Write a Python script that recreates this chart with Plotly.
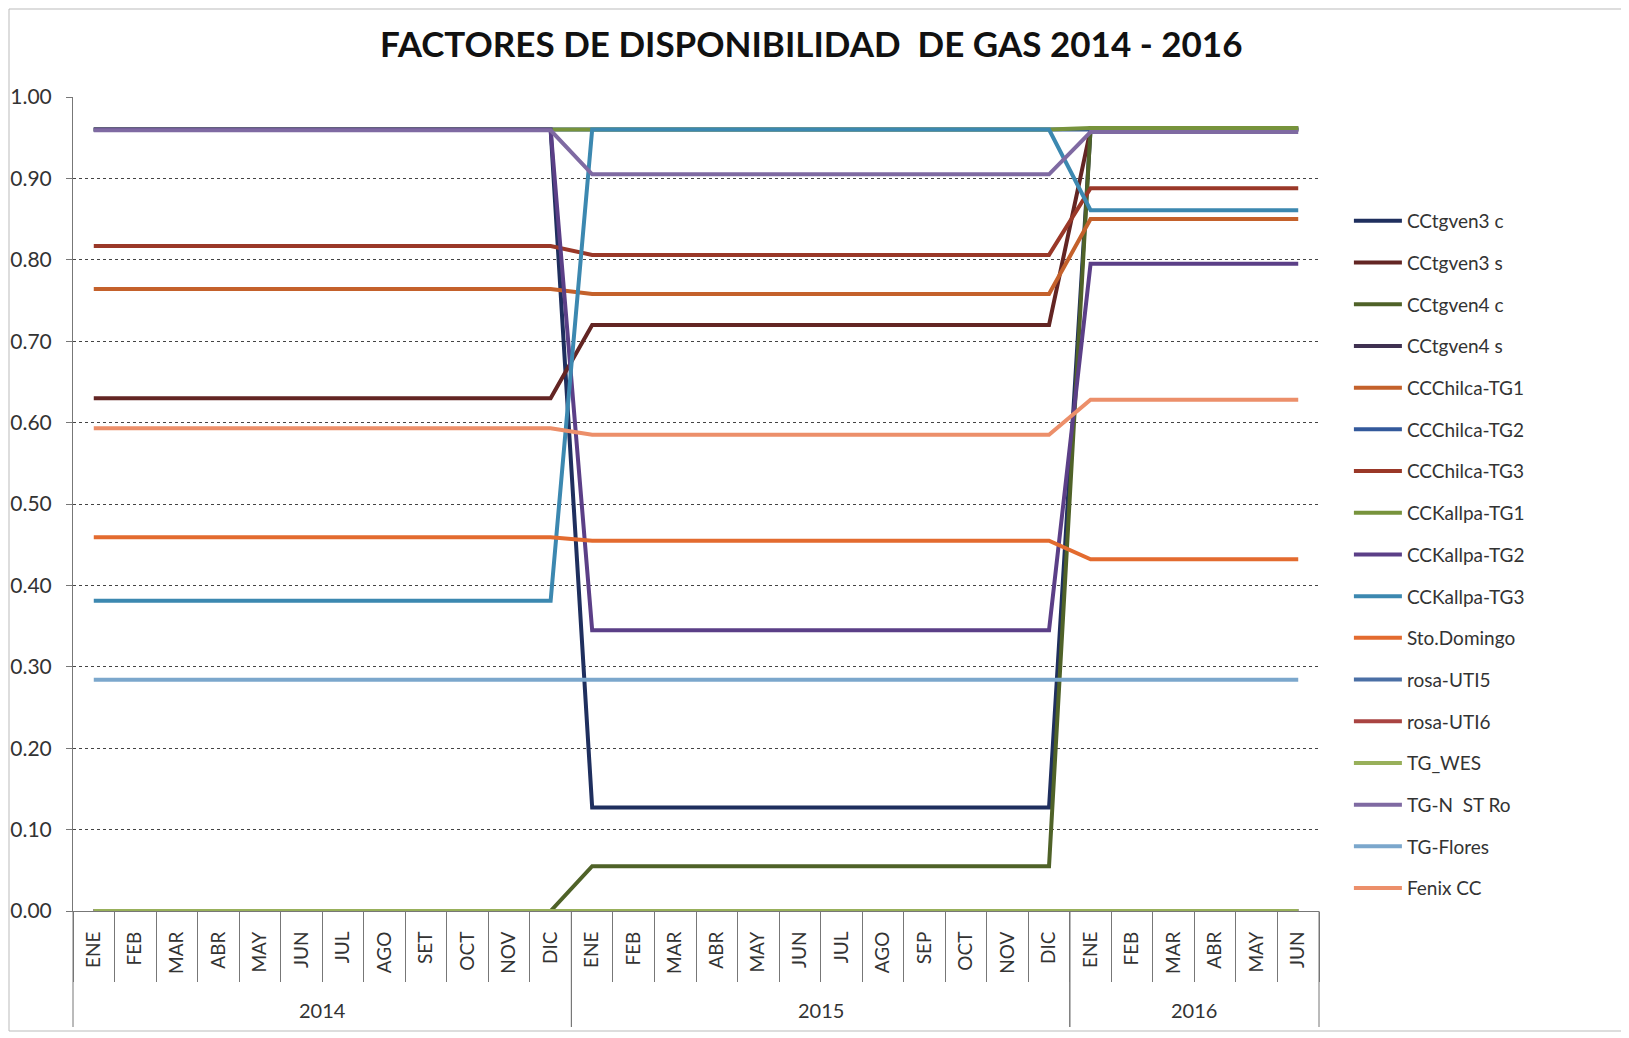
import plotly.graph_objects as go

years = ["2014"] * 12 + ["2015"] * 12 + ["2016"] * 6
months = ["ENE", "FEB", "MAR", "ABR", "MAY", "JUN", "JUL", "AGO", "SET", "OCT", "NOV", "DIC",
          "ENE", "FEB", "MAR", "ABR", "MAY", "JUN", "JUL", "AGO", "SEP", "OCT", "NOV", "DIC",
          "ENE", "FEB", "MAR", "ABR", "MAY", "JUN"]
year_labels = ["2014", "2015", "2016"]

cctgven3_c = [0.96, 0.96, 0.96, 0.96, 0.96, 0.96, 0.96, 0.96, 0.96, 0.96, 0.96, 0.96,
              0.127, 0.127, 0.127, 0.127, 0.127, 0.127, 0.127, 0.127, 0.127, 0.127, 0.127, 0.127,
              0.96, 0.96, 0.96, 0.96, 0.96, 0.96]
cctgven3_s = [0.63, 0.63, 0.63, 0.63, 0.63, 0.63, 0.63, 0.63, 0.63, 0.63, 0.63, 0.63,
              0.72, 0.72, 0.72, 0.72, 0.72, 0.72, 0.72, 0.72, 0.72, 0.72, 0.72, 0.72,
              0.96, 0.96, 0.96, 0.96, 0.96, 0.96]
cctgven4_c = [0.0, 0.0, 0.0, 0.0, 0.0, 0.0, 0.0, 0.0, 0.0, 0.0, 0.0, 0.0,
              0.055, 0.055, 0.055, 0.055, 0.055, 0.055, 0.055, 0.055, 0.055, 0.055, 0.055, 0.055,
              0.962, 0.962, 0.962, 0.962, 0.962, 0.962]
cctgven4_s = [0.0, 0.0, 0.0, 0.0, 0.0, 0.0, 0.0, 0.0, 0.0, 0.0, 0.0, 0.0,
              0.0, 0.0, 0.0, 0.0, 0.0, 0.0, 0.0, 0.0, 0.0, 0.0, 0.0, 0.0,
              0.0, 0.0, 0.0, 0.0, 0.0, 0.0]
chilca_tg1 = [0.764, 0.764, 0.764, 0.764, 0.764, 0.764, 0.764, 0.764, 0.764, 0.764, 0.764, 0.764,
              0.758, 0.758, 0.758, 0.758, 0.758, 0.758, 0.758, 0.758, 0.758, 0.758, 0.758, 0.758,
              0.85, 0.85, 0.85, 0.85, 0.85, 0.85]
chilca_tg2 = [0.96, 0.96, 0.96, 0.96, 0.96, 0.96, 0.96, 0.96, 0.96, 0.96, 0.96, 0.96,
              0.96, 0.96, 0.96, 0.96, 0.96, 0.96, 0.96, 0.96, 0.96, 0.96, 0.96, 0.96,
              0.96, 0.96, 0.96, 0.96, 0.96, 0.96]
chilca_tg3 = [0.817, 0.817, 0.817, 0.817, 0.817, 0.817, 0.817, 0.817, 0.817, 0.817, 0.817, 0.817,
              0.806, 0.806, 0.806, 0.806, 0.806, 0.806, 0.806, 0.806, 0.806, 0.806, 0.806, 0.806,
              0.888, 0.888, 0.888, 0.888, 0.888, 0.888]
kallpa_tg1 = [0.96, 0.96, 0.96, 0.96, 0.96, 0.96, 0.96, 0.96, 0.96, 0.96, 0.96, 0.96,
              0.96, 0.96, 0.96, 0.96, 0.96, 0.96, 0.96, 0.96, 0.96, 0.96, 0.96, 0.96,
              0.962, 0.962, 0.962, 0.962, 0.962, 0.962]
kallpa_tg2 = [0.96, 0.96, 0.96, 0.96, 0.96, 0.96, 0.96, 0.96, 0.96, 0.96, 0.96, 0.96,
              0.345, 0.345, 0.345, 0.345, 0.345, 0.345, 0.345, 0.345, 0.345, 0.345, 0.345, 0.345,
              0.795, 0.795, 0.795, 0.795, 0.795, 0.795]
kallpa_tg3 = [0.381, 0.381, 0.381, 0.381, 0.381, 0.381, 0.381, 0.381, 0.381, 0.381, 0.381, 0.381,
              0.96, 0.96, 0.96, 0.96, 0.96, 0.96, 0.96, 0.96, 0.96, 0.96, 0.96, 0.96,
              0.861, 0.861, 0.861, 0.861, 0.861, 0.861]
sto_domingo = [0.459, 0.459, 0.459, 0.459, 0.459, 0.459, 0.459, 0.459, 0.459, 0.459, 0.459, 0.459,
               0.455, 0.455, 0.455, 0.455, 0.455, 0.455, 0.455, 0.455, 0.455, 0.455, 0.455, 0.455,
               0.432, 0.432, 0.432, 0.432, 0.432, 0.432]
rosa_uti5 = [0.0, 0.0, 0.0, 0.0, 0.0, 0.0, 0.0, 0.0, 0.0, 0.0, 0.0, 0.0,
             0.0, 0.0, 0.0, 0.0, 0.0, 0.0, 0.0, 0.0, 0.0, 0.0, 0.0, 0.0,
             0.0, 0.0, 0.0, 0.0, 0.0, 0.0]
rosa_uti6 = [0.0, 0.0, 0.0, 0.0, 0.0, 0.0, 0.0, 0.0, 0.0, 0.0, 0.0, 0.0,
             0.0, 0.0, 0.0, 0.0, 0.0, 0.0, 0.0, 0.0, 0.0, 0.0, 0.0, 0.0,
             0.0, 0.0, 0.0, 0.0, 0.0, 0.0]
tg_wes = [0.0, 0.0, 0.0, 0.0, 0.0, 0.0, 0.0, 0.0, 0.0, 0.0, 0.0, 0.0,
          0.0, 0.0, 0.0, 0.0, 0.0, 0.0, 0.0, 0.0, 0.0, 0.0, 0.0, 0.0,
          0.0, 0.0, 0.0, 0.0, 0.0, 0.0]
tg_n_st_ro = [0.959, 0.959, 0.959, 0.959, 0.959, 0.959, 0.959, 0.959, 0.959, 0.959, 0.959, 0.959,
              0.905, 0.905, 0.905, 0.905, 0.905, 0.905, 0.905, 0.905, 0.905, 0.905, 0.905, 0.905,
              0.957, 0.957, 0.957, 0.957, 0.957, 0.957]
tg_flores = [0.284, 0.284, 0.284, 0.284, 0.284, 0.284, 0.284, 0.284, 0.284, 0.284, 0.284, 0.284,
             0.284, 0.284, 0.284, 0.284, 0.284, 0.284, 0.284, 0.284, 0.284, 0.284, 0.284, 0.284,
             0.284, 0.284, 0.284, 0.284, 0.284, 0.284]
fenix_cc = [0.593, 0.593, 0.593, 0.593, 0.593, 0.593, 0.593, 0.593, 0.593, 0.593, 0.593, 0.593,
            0.585, 0.585, 0.585, 0.585, 0.585, 0.585, 0.585, 0.585, 0.585, 0.585, 0.585, 0.585,
            0.628, 0.628, 0.628, 0.628, 0.628, 0.628]

series_names = ["CCtgven3 c", "CCtgven3 s", "CCtgven4 c", "CCtgven4 s", "CCChilca-TG1",
                "CCChilca-TG2", "CCChilca-TG3", "CCKallpa-TG1", "CCKallpa-TG2", "CCKallpa-TG3",
                "Sto.Domingo", "rosa-UTI5", "rosa-UTI6", "TG_WES", "TG-N  ST Ro", "TG-Flores", "Fenix CC"]
series_values = [cctgven3_c, cctgven3_s, cctgven4_c, cctgven4_s, chilca_tg1, chilca_tg2, chilca_tg3,
                 kallpa_tg1, kallpa_tg2, kallpa_tg3, sto_domingo, rosa_uti5, rosa_uti6, tg_wes,
                 tg_n_st_ro, tg_flores, fenix_cc]
series_colors = ["#1F2F5E", "#632523", "#4F6228", "#3F3151", "#C4612B",
                 "#33599B", "#9A3828", "#77933C", "#5B3F87", "#3C88B0",
                 "#E36B2F", "#4A6FA5", "#A94442", "#98B05A", "#7F6AA2", "#7BA7CC", "#EC8F6A"]

FONT = "Lato"
W, H = 1621, 1030
ML, MT, PW, PH = 65, 89, 1246, 814

# unique category keys (year + month), displayed with month text only
x_keys = [f"{y} {m}" for y, m in zip(years, months)]

fig = go.Figure()
for i, (name, vals, col) in enumerate(zip(series_names, series_values, series_colors)):
    fig.add_trace(go.Scatter(
        x=x_keys, y=vals, name=name, mode="lines",
        line=dict(color=col, width=4), legendgroup=f"g{i}",
    ))

def px_x(p):
    return (p - ML) / PW

def px_y(p):
    return (MT + PH - p) / PH

n = len(x_keys)
line_style = dict(color="#777777", width=1)
shapes = [
    dict(type="rect", xref="paper", yref="paper", x0=px_x(1), x1=px_x(1618), y0=px_y(1023), y1=px_y(1),
         line=dict(color="#BBBBBB", width=1), layer="below"),
]
annotations = []
for yl in year_labels:
    idx = [k for k, y in enumerate(years) if y == yl]
    first, last = idx[0], idx[-1]
    for b in (first / n, (last + 1) / n):
        shapes.append(dict(type="line", xref="paper", yref="paper", x0=b, x1=b,
                           y0=px_y(1019), y1=0, line=line_style))
    annotations.append(dict(text=yl, x=(first + last) / 2, xref="x", y=px_y(1002), yref="paper",
                            showarrow=False, xanchor="center", yanchor="middle",
                            font=dict(family=FONT, size=20, color="#333333")))

fig.update_layout(
    width=W, height=H,
    paper_bgcolor="white", plot_bgcolor="white",
    margin=dict(l=ML, r=W - ML - PW, t=MT, b=H - MT - PH),
    font=dict(family=FONT, color="#333333", size=18),
    title=dict(text="<b>FACTORES DE DISPONIBILIDAD  DE GAS 2014 - 2016</b>",
               x=0.4955, xref="container", xanchor="center",
               y=0.964, yanchor="middle",
               font=dict(family=FONT, size=35, color="#111111")),
    legend=dict(x=1.024, xanchor="left", y=0.871, yanchor="top",
                font=dict(family=FONT, size=19, color="#333333"),
                tracegroupgap=14, itemwidth=48, bgcolor="rgba(0,0,0,0)"),
    showlegend=True,
    shapes=shapes,
    annotations=annotations,
)

fig.update_yaxes(
    range=[0, 1.0], dtick=0.1, tickformat=".2f",
    showgrid=True, gridcolor="#444444", gridwidth=1, griddash="dot",
    showline=True, linecolor="#777777", linewidth=1,
    ticks="outside", ticklen=6, tickcolor="#777777",
    ticklabelstandoff=10, automargin=False,
    tickfont=dict(family=FONT, size=21, color="#333333"),
    zeroline=False,
)
fig.update_xaxes(
    type="category", tickangle=-90,
    categoryorder="array", categoryarray=x_keys,
    tickmode="array", tickvals=x_keys, ticktext=months,
    range=[-0.5, n - 0.5],
    showgrid=False, showline=True, linecolor="#777777", linewidth=1,
    ticks="outside", tickson="boundaries", ticklen=70, tickcolor="#777777",
    ticklabelstandoff=12, automargin=False,
    tickfont=dict(family=FONT, size=19, color="#333333"),
)

fig.write_html("out.html")
